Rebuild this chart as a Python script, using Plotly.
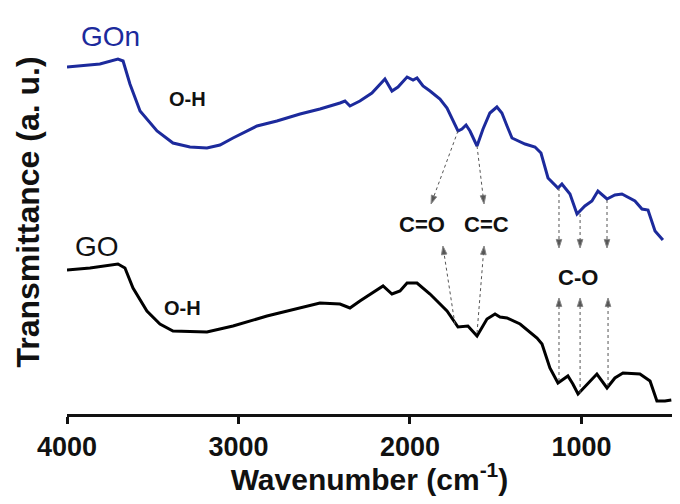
import plotly.graph_objects as go

# ---- data (wavenumber in cm^-1, transmittance in arbitrary units) ----
gon_wn = [4000, 3924, 3808, 3703, 3673, 3633, 3574, 3475, 3382, 3283, 3184, 3108, 3032,
          2892, 2776, 2641, 2525, 2408, 2379, 2350, 2292, 2222, 2146, 2105, 2070, 2017,
          1982, 1959, 1924, 1883, 1825, 1784, 1749, 1720, 1697, 1673, 1650, 1609, 1574,
          1534, 1493, 1464, 1434, 1405, 1329, 1271, 1236, 1195, 1137, 1114, 1067, 1026,
          980, 939, 904, 851, 805, 764, 688, 647, 612, 571, 525]
gon_t = [86.75, 87, 87.5, 88.75, 88.25, 82.5, 75.75, 70.75, 67.75, 66.75, 66.5, 67.25, 69,
         72, 73.25, 75, 76.25, 77.75, 78.25, 77, 78.25, 80.25, 83.75, 80.75, 81.75, 84.25,
         83.5, 84, 82, 80.75, 78.75, 76.5, 73.25, 70.75, 71.25, 72.25, 70.75, 67, 71.25,
         75.25, 76.75, 75.25, 72, 69, 67.5, 66.75, 65.25, 59, 56.5, 57.5, 55, 50,
         52, 53.25, 55.75, 53.75, 54.75, 55, 53.25, 51.25, 51, 45.75, 43.5]

go_wn = [4000, 3866, 3703, 3662, 3615, 3534, 3458, 3382, 3184, 3032, 2834, 2641, 2525,
         2408, 2350, 2292, 2157, 2105, 2058, 2017, 1959, 1883, 1784, 1720, 1662, 1609,
         1551, 1504, 1475, 1434, 1358, 1259, 1230, 1184, 1137, 1079, 1050, 1020, 962,
         910, 851, 805, 758, 659, 600, 560, 513, 476]
go_t = [36, 36.5, 37.5, 36.5, 31.5, 25.75, 22.5, 20.75, 20.5, 22, 24.5, 26.5, 27.75,
        27.5, 26.5, 28.25, 32, 30, 30.75, 32.75, 32.75, 30, 25.75, 21.75, 22, 19.5,
        23.75, 25, 24.25, 24, 22.5, 19, 17.5, 11.5, 7.75, 9.5, 7.5, 5, 7.5,
        10, 6.5, 9, 10.25, 10, 8.25, 3.25, 3.25, 3.5]

tick_vals = [4000, 3000, 2000, 1000]
tick_text = ["4000", "3000", "2000", "1000"]

# band assignment arrows: (start wn, start T, end wn, end T)
arrows_from = [(1720, 70.75, 1877, 52.5), (1609, 67, 1568, 52.5),
               (1131, 56.5, 1131, 41.5), (1008, 50, 1008, 41.5), (851, 53.5, 851, 41.5),
               (1738, 22.5, 1808, 42), (1609, 20.25, 1568, 42),
               (1131, 8.25, 1131, 29), (1008, 5.25, 1008, 29), (845, 7, 845, 29)]

labels = [("GOn", 3749, 94.5, "#1c2a9c", 28, False),
          ("GO", 3825, 42, "#111111", 28, False),
          ("O-H", 3300, 78.75, "#111111", 20, True),
          ("O-H", 3324, 26.5, "#111111", 20, True),
          ("C=O", 1930, 47.5, "#111111", 22, True),
          ("C=C", 1551, 47.5, "#111111", 22, True),
          ("C-O", 1020, 34.25, "#111111", 22, True)]

FONT = "Liberation Sans, Arial, sans-serif"

fig = go.Figure()
fig.add_trace(go.Scatter(x=gon_wn, y=gon_t, mode="lines", name="GOn",
                         line=dict(color="#1c2a9c", width=3), showlegend=False))
fig.add_trace(go.Scatter(x=go_wn, y=go_t, mode="lines", name="GO",
                         line=dict(color="#000000", width=3), showlegend=False))

for (x0, y0, x1, y1) in arrows_from:
    fig.add_trace(go.Scatter(
        x=[x0, x1], y=[y0, y1], mode="lines+markers", showlegend=False,
        hoverinfo="skip",
        line=dict(color="#555555", width=1, dash="dot"),
        marker=dict(symbol="arrow", angleref="previous", size=[0, 9],
                    color="#111111")))

for (txt, x, y, col, size, bold) in labels:
    fig.add_annotation(x=x, y=y, text=f"<b>{txt}</b>" if bold else txt,
                       showarrow=False, xanchor="center", yanchor="middle",
                       font=dict(family=FONT, size=size, color=col))

# page has an 8px body margin, so the figure is 664x488 and offsets are shifted
fig.update_layout(
    width=664, height=488,
    margin=dict(l=59, r=0, t=2, b=82),
    paper_bgcolor="white", plot_bgcolor="white",
    font=dict(family=FONT, color="#111111"),
    xaxis=dict(range=[4000, 472], tickmode="array", tickvals=tick_vals,
               ticktext=tick_text, ticks="outside", ticklen=7, tickwidth=2.5,
               tickcolor="#111111", showline=True, linewidth=3,
               linecolor="#111111", showgrid=False, zeroline=False,
               automargin=False,
               tickfont=dict(family=FONT, size=27, color="#111111", weight="bold"),
               title=dict(text="Wavenumber (cm<sup>-1</sup>)",
                          font=dict(family=FONT, size=30, color="#111111", weight="bold"),
                          standoff=8)),
    yaxis=dict(range=[0, 101], showline=False, showticklabels=False,
               ticks="", showgrid=False, zeroline=False, automargin=False,
               title=dict(text="Transmittance (a. u.)",
                          font=dict(family=FONT, size=32, color="#111111", weight="bold"),
                          standoff=16)),
)

fig.write_html("out.html")
